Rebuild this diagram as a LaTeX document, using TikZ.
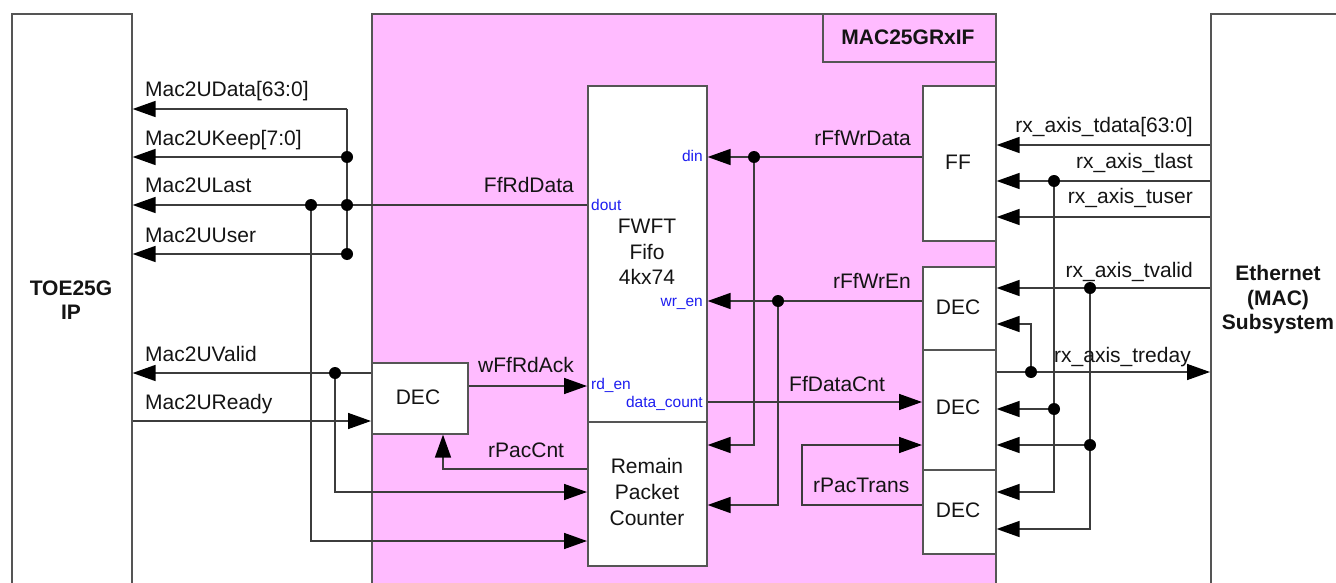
\documentclass[tikz,border=0pt]{standalone}
\usepackage{fontspec}
\setmainfont{Liberation Sans}
\usetikzlibrary{arrows.meta}
\definecolor{pinkc}{RGB}{255,187,255}
\definecolor{wirec}{RGB}{60,60,60}
\definecolor{boxc}{RGB}{85,85,85}
\definecolor{txtc}{RGB}{20,20,20}
\definecolor{portc}{RGB}{30,30,240}
\begin{document}
\begin{tikzpicture}[x=1pt,y=-1pt,
  wire/.style={draw=wirec, line width=1.5pt},
  arr/.style={wire, -{Triangle[length=23pt,width=16pt,color=black]}},
  dot/.style={circle, fill=black, inner sep=0pt, minimum size=12pt},
  box/.style={draw=boxc, line width=1.6pt, fill=white, inner sep=0pt, anchor=north west},
  lbl/.style={font=\fontsize{21}{25}\selectfont, text=txtc, inner sep=0pt},
  port/.style={font=\fontsize{15.5}{18}\selectfont, text=portc, inner sep=0pt},
  blk/.style={font=\fontsize{21}{25.6}\selectfont, align=center, text=txtc, inner sep=0pt},
  bblk/.style={font=\fontsize{21}{24.5}\bfseries\selectfont, align=center, text=txtc, inner sep=0pt}
  ]
\useasboundingbox (0,0) rectangle (1336,583);
\clip (0,0) rectangle (1336,583);
% ---------- boxes ----------
\node[box, minimum width=120pt, minimum height=600pt] (toe) at (11,13) {};
\node[box, fill=pinkc, minimum width=624pt, minimum height=600pt] (mac) at (371,13) {};
\node[box, fill=pinkc, minimum width=173pt, minimum height=48pt] (maclbl) at (822,13) {};
\node[box, minimum width=160pt, minimum height=600pt] (eth) at (1210,13) {};
\node[box, minimum width=119pt, minimum height=336pt] (fifo) at (587,85) {};
\node[box, minimum width=119pt, minimum height=144pt] (rpc) at (587,421) {};
\node[box, minimum width=73pt, minimum height=155pt] (ff) at (922,85) {};
\node[box, minimum width=73pt, minimum height=83pt] (dec1) at (922,266) {};
\node[box, minimum width=73pt, minimum height=120pt] (dec2) at (922,349) {};
\node[box, minimum width=73pt, minimum height=84pt] (dec3) at (922,469) {};
\node[box, minimum width=96pt, minimum height=71pt] (ldec) at (371,362) {};
% ---------- block texts ----------
\node[bblk] (toetxt) at (71,300) {TOE25G\\IP};
\node[bblk] (ethtxt) at (1278,300) {Ethernet\\(MAC)\\Subsystem};
\node[bblk] (mactxt) at (908,37) {MAC25GRxIF};
\node[blk] (fifotxt) at (647,252) {FWFT\\Fifo\\4kx74};
\node[blk] (rpctxt) at (647,492) {Remain\\Packet\\Counter};
\node[blk] (fftxt) at (958,162) {FF};
\node[blk] (dec1txt) at (958,307) {DEC};
\node[blk] (dec2txt) at (958,407) {DEC};
\node[blk] (dec3txt) at (958,510) {DEC};
\node[blk] (ldectxt) at (418,397) {DEC};
% ---------- port labels ----------
\node[port, anchor=base east] (pdin) at (703,161) {din};
\node[port, anchor=base west] (pdout) at (591,210) {dout};
\node[port, anchor=base east] (pwren) at (703,306) {wr\_en};
\node[port, anchor=base west] (prden) at (591,389) {rd\_en};
\node[port, anchor=base east] (pdc) at (703,407) {data\_count};
% ---------- left side ----------
\coordinate (bT) at (347,109);
\coordinate (bK) at (347,157);
\coordinate (bL) at (347,205);
\coordinate (bU) at (347,254);
\coordinate (lL) at (311,205);
\coordinate (vV) at (335,373);
\draw[wire] (bT) -- (bU);
\draw[arr] (bT) -- (toe.east |- bT);
\draw[arr] (bK) -- (toe.east |- bK);
\draw[arr] (fifo.west |- bL) -- (toe.east |- bL);
\draw[arr] (bU) -- (toe.east |- bU);
\draw[arr] (lL) |- (rpc.west |- 0,541);
\draw[arr] (ldec.west |- vV) -- (toe.east |- vV);
\draw[arr] (vV) |- (rpc.west |- 0,492);
\draw[arr] (toe.east |- 0,421) -- (ldec.west |- 0,421);
\draw[arr] (ldec.east |- 0,386) -- (fifo.west |- 0,386);
\draw[arr] (rpc.west |- 0,469) -| (ldec.south -| 443,0);
\node[dot] (dK) at (bK) {};
\node[dot] (dL) at (bL) {};
\node[dot] (dU) at (bU) {};
\node[dot] (dlL) at (lL) {};
\node[dot] (dvV) at (vV) {};
% ---------- middle right ----------
\coordinate (wD) at (754,157);
\coordinate (wE) at (778,301);
\coordinate (pt1) at (802,505);
\coordinate (pt2) at (802,445);
\draw[arr] (ff.west |- wD) -- (fifo.east |- wD);
\draw[arr] (wD) |- (rpc.east |- 0,445);
\draw[arr] (dec1.west |- wE) -- (fifo.east |- wE);
\draw[arr] (wE) |- (rpc.east |- 0,505);
\draw[arr] (fifo.east |- 0,402) -- (dec2.west |- 0,402);
\draw[arr] (dec3.west |- pt1) -- (pt1) -- (pt2) -- (dec2.west |- pt2);
\node[dot] (dwD) at (wD) {};
\node[dot] (dwE) at (wE) {};
% ---------- right side ----------
\coordinate (tL) at (1054,181);
\coordinate (tL2) at (1054,409);
\coordinate (tV) at (1090,288);
\coordinate (tV2) at (1090,445);
\coordinate (tR) at (1031,372);
\draw[arr] (eth.west |- 0,145) -- (ff.east |- 0,145);
\draw[arr] (eth.west |- tL) -- (ff.east |- tL);
\draw[arr] (tL) |- (dec3.east |- 0,492);
\draw[arr] (tL2) -- (dec2.east |- tL2);
\draw[arr] (eth.west |- 0,217) -- (ff.east |- 0,217);
\draw[arr] (eth.west |- tV) -- (dec1.east |- tV);
\draw[arr] (tV) |- (dec3.east |- 0,529);
\draw[arr] (tV2) -- (dec2.east |- tV2);
\draw[arr] (dec2.east |- tR) -- (eth.west |- tR);
\draw[arr] (tR) |- (dec1.east |- 0,324);
\node[dot] (dtL) at (tL) {};
\node[dot] (dtL2) at (tL2) {};
\node[dot] (dtV) at (tV) {};
\node[dot] (dtV2) at (tV2) {};
\node[dot] (dtR) at (tR) {};
% ---------- wire labels ----------
\node[lbl, anchor=base west] (l1) at (145,97) {Mac2UData[63:0]};
\node[lbl, anchor=base west] (l2) at (145,146) {Mac2UKeep[7:0]};
\node[lbl, anchor=base west] (l3) at (145,193) {Mac2ULast};
\node[lbl, anchor=base west] (l4) at (145,242) {Mac2UUser};
\node[lbl, anchor=base west] (l5) at (145,361) {Mac2UValid};
\node[lbl, anchor=base west] (l6) at (145,409) {Mac2UReady};
\node[lbl, anchor=base east] (l7) at (574,193) {FfRdData};
\node[lbl, anchor=base west] (l8) at (478,372) {wFfRdAck};
\node[lbl, anchor=base west] (l9) at (488,457) {rPacCnt};
\node[lbl, anchor=base east] (l10) at (911,146) {rFfWrData};
\node[lbl, anchor=base east] (l11) at (911,288) {rFfWrEn};
\node[lbl, anchor=base west] (l12) at (789,391) {FfDataCnt};
\node[lbl, anchor=base west] (l13) at (813,492) {rPacTrans};
\node[lbl, anchor=base east] (l14) at (1193,133) {rx\_axis\_tdata[63:0]};
\node[lbl, anchor=base east] (l15) at (1193,168) {rx\_axis\_tlast};
\node[lbl, anchor=base east] (l16) at (1193,204) {rx\_axis\_tuser};
\node[lbl, anchor=base east] (l17) at (1193,277) {rx\_axis\_tvalid};
\node[lbl, anchor=base west] (l18) at (1054,362) {rx\_axis\_treday};
\end{tikzpicture}
\end{document}
